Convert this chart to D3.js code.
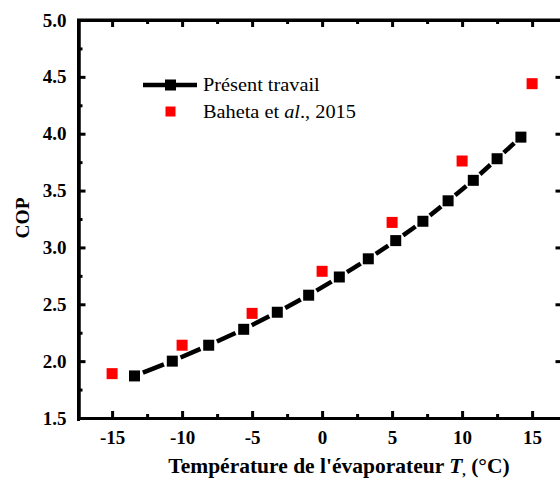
<!DOCTYPE html>
<html>
<head>
<meta charset="utf-8">
<script src="https://cdn.jsdelivr.net/npm/d3@7"></script>
<style>
  body { margin: 0; background: #fff; }
  svg { display: block; }
</style>
</head>
<body>
<script>
// chart data
const tempPresent = [-13.4, -10.7, -8.1, -5.6, -3.2, -0.96, 1.23, 3.3, 5.26, 7.2, 9.0, 10.8, 12.5, 14.2];
const copPresent  = [1.87, 2.00, 2.14, 2.28, 2.43, 2.58, 2.74, 2.90, 3.06, 3.23, 3.41, 3.59, 3.78, 3.97];
const tempBaheta = [-15, -10, -5, 0, 5, 10, 15];
const copBaheta  = [1.89, 2.14, 2.42, 2.79, 3.22, 3.76, 4.44];
const xTicks = [-15, -10, -5, 0, 5, 10, 15];
const xMinor = [-12.5, -7.5, -2.5, 2.5, 7.5, 12.5];
const yTicks = [1.5, 2.0, 2.5, 3.0, 3.5, 4.0, 4.5, 5.0];
const yMinor = [1.75, 2.25, 2.75, 3.25, 3.75, 4.25, 4.75];

const w = 560, h = 479;
const mLeft = 78.5, mRight = 561.5, mTop = 20, mBottom = 418;

const svg = d3.select("body").append("svg")
  .attr("width", w).attr("height", h);

const x = d3.scaleLinear().domain([-17.4, 17.1]).range([mLeft, mRight]);
const y = d3.scaleLinear().domain([1.5, 5.0]).range([mBottom, mTop]);

const font = "'Liberation Serif', 'Times New Roman', serif";

// axes: ticks point inward
function styleAxis(g) {
  g.attr("font-family", font).attr("font-size", 19).attr("font-weight", "bold");
  g.select(".domain").attr("stroke-width", 3).attr("stroke", "#000");
  g.selectAll(".tick line").attr("stroke-width", 3).attr("stroke", "#000");
  g.selectAll(".tick text").attr("fill", "#000");
}

// bottom
svg.append("g").attr("transform", `translate(0,${mBottom})`)
  .call(d3.axisBottom(x).tickValues(xTicks).tickSize(-7).tickSizeOuter(0).tickPadding(12.5)
    .tickFormat(d => String(d)))
  .call(styleAxis);
svg.append("g").attr("transform", `translate(0,${mBottom})`)
  .call(d3.axisBottom(x).tickValues(xMinor).tickSize(-4).tickSizeOuter(0).tickFormat(""))
  .call(styleAxis);
// top
svg.append("g").attr("transform", `translate(0,${mTop})`)
  .call(d3.axisTop(x).tickValues(xTicks).tickSize(-7).tickSizeOuter(0).tickFormat(""))
  .call(styleAxis);
svg.append("g").attr("transform", `translate(0,${mTop})`)
  .call(d3.axisTop(x).tickValues(xMinor).tickSize(-4).tickSizeOuter(0).tickFormat(""))
  .call(styleAxis);
// left
svg.append("g").attr("transform", `translate(${mLeft},0)`)
  .call(d3.axisLeft(y).tickValues(yTicks).tickSize(-7).tickSizeOuter(0).tickPadding(12)
    .tickFormat(d3.format(".1f")))
  .call(styleAxis);
svg.append("g").attr("transform", `translate(${mLeft},0)`)
  .call(d3.axisLeft(y).tickValues(yMinor).tickSize(-4).tickSizeOuter(0).tickFormat(""))
  .call(styleAxis);
// right (mostly outside the window)
svg.append("g").attr("transform", `translate(${mRight},0)`)
  .call(d3.axisRight(y).tickValues(yTicks).tickSize(-6).tickSizeOuter(0).tickFormat(""))
  .call(styleAxis);

// corner join of the frame
svg.append("path")
  .attr("d", `M${mLeft},${mBottom + 1.5}V${mTop}H${w}`)
  .attr("fill", "none").attr("stroke", "#000").attr("stroke-width", 3)
  .attr("stroke-linecap", "square");

// present work: line segments with gaps around markers
const pts = tempPresent.map((t, i) => [x(t), y(copPresent[i])]);
const gap = 9;
const segs = d3.pairs(pts).map(([a, b]) => {
  const dx = b[0] - a[0], dy = b[1] - a[1];
  const len = Math.hypot(dx, dy);
  const ux = dx / len, uy = dy / len;
  return [a[0] + ux * gap, a[1] + uy * gap, b[0] - ux * gap, b[1] - uy * gap];
});
svg.selectAll("line.seg").data(segs).enter().append("line")
  .attr("class", "seg")
  .attr("x1", d => d[0]).attr("y1", d => d[1])
  .attr("x2", d => d[2]).attr("y2", d => d[3])
  .attr("stroke", "#000").attr("stroke-width", 4.5);

const ms = 11;
svg.selectAll("rect.present").data(tempPresent).enter().append("rect")
  .attr("class", "present")
  .attr("x", (d, i) => x(d) - ms / 2)
  .attr("y", (d, i) => y(copPresent[i]) - ms / 2)
  .attr("width", ms).attr("height", ms)
  .attr("fill", "#000");

svg.selectAll("rect.baheta").data(tempBaheta).enter().append("rect")
  .attr("class", "baheta")
  .attr("x", (d, i) => x(d) - ms / 2)
  .attr("y", (d, i) => y(copBaheta[i]) - ms / 2)
  .attr("width", ms).attr("height", ms)
  .attr("fill", "#ff0000");

// legend
const lg = svg.append("g").attr("font-family", font).attr("font-size", 19);
lg.append("line").attr("x1", 143).attr("x2", 197).attr("y1", 85).attr("y2", 85)
  .attr("stroke", "#000").attr("stroke-width", 4.5);
lg.append("rect").attr("x", 170.5 - ms / 2).attr("y", 85 - ms / 2)
  .attr("width", ms).attr("height", ms).attr("fill", "#000");
lg.append("text").attr("transform", "translate(203,91) scale(1.07,1)").text("Présent travail");
lg.append("rect").attr("x", 170.5 - 5).attr("y", 111.5 - 5)
  .attr("width", 10).attr("height", 10).attr("fill", "#ff0000");
const t2 = lg.append("text").attr("transform", "translate(203,118) scale(1.07,1)");
t2.append("tspan").text("Baheta et ");
t2.append("tspan").attr("font-style", "italic").text("al");
t2.append("tspan").text("., 2015");

// axis titles
const xt = svg.append("text")
  .attr("x", 339).attr("y", 473).attr("text-anchor", "middle")
  .attr("font-family", font).attr("font-weight", "bold").attr("font-size", 21.5);
xt.append("tspan").text("Température de l'évaporateur ");
xt.append("tspan").attr("font-style", "italic").text("T");
xt.append("tspan").attr("font-size", 14).attr("dy", 2).text(",");
xt.append("tspan").attr("dy", -2).text(" (°C)");

svg.append("text")
  .attr("transform", "translate(28.5,218) rotate(-90)")
  .attr("text-anchor", "middle")
  .attr("font-family", font).attr("font-weight", "bold").attr("font-size", 19.5)
  .text("COP");
</script>
</body>
</html>
